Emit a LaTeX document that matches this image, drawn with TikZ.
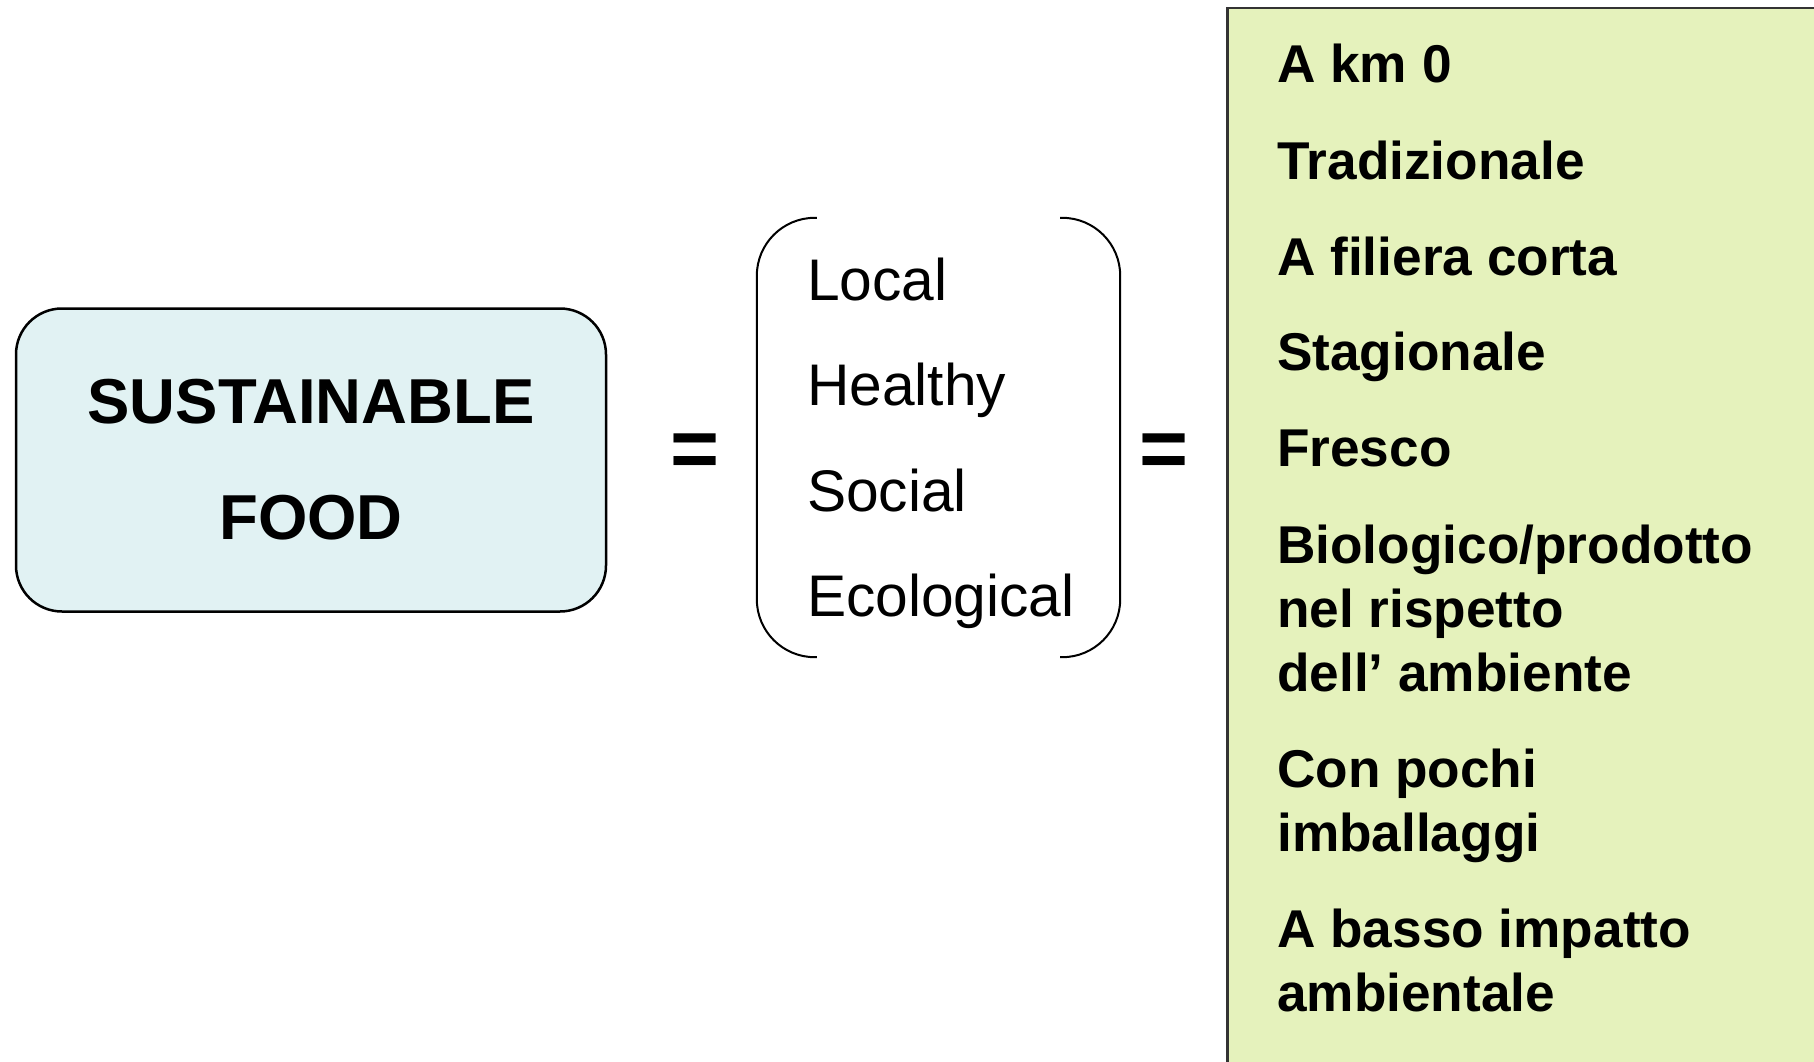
\documentclass[tikz,border=0pt]{standalone}
\usepackage{fontspec}
\setmainfont{Liberation Sans}
\usetikzlibrary{positioning, calc}
\definecolor{foodblue}{HTML}{E1F2F3}
\definecolor{itemgreen}{HTML}{E5F2BC}

\begin{document}
\begin{tikzpicture}[x=1pt, y=-1pt,
                    food_box/.style={rectangle, draw, line width=2.5pt, rounded corners=46pt, fill=foodblue, minimum width=590pt, minimum height=303pt, align=center, font=\fontsize{63.5}{116}\selectfont\bfseries},
                    equals_sign/.style={inner sep=0pt, font=\fontsize{84}{84}\selectfont\bfseries},
                    quality/.style={anchor=base west, inner sep=0pt, font=\fontsize{58.7}{72}\selectfont},
                    bracket_line/.style={line width=2pt, rounded corners=58pt},
                    item_box/.style={rectangle, draw, line width=2.5pt, draw=black!80, fill=itemgreen, minimum width=700pt, minimum height=1100pt, anchor=north west},
                    item/.style={anchor=base west, inner sep=0pt, align=left, font=\fontsize{53.2}{64}\selectfont\bfseries},
                    ]

    \useasboundingbox (0,0) rectangle (1814,1062);
    \clip (0,0) rectangle (1814,1062);

    % Sustainable food
    \node[food_box] (food) at (311,460) {SUSTAINABLE\\FOOD};
    \node[equals_sign] (eq_left) at (695,456) {=};

    % Qualities in brackets
    \node[minimum width=363pt, minimum height=439pt] (qualities) at (938.5,437.5) {};
    \draw[bracket_line] ($(qualities.north west)+(60,0)$) -- (qualities.north west) -- (qualities.south west) -- ($(qualities.south west)+(60,0)$);
    \draw[bracket_line] ($(qualities.north east)+(-60,0)$) -- (qualities.north east) -- (qualities.south east) -- ($(qualities.south east)+(-60,0)$);
    \node[quality] (local) at ($(qualities.north west)+(50,83)$) {Local};
    \node[quality] (healthy) at ($(local.base west)+(0,105)$) {Healthy};
    \node[quality] (social) at ($(healthy.base west)+(0,106)$) {Social};
    \node[quality] (ecological) at ($(social.base west)+(0,105)$) {Ecological};

    \node[equals_sign] (eq_right) at (1164,456) {=};

    % Italian list (base of a multi-line item = its last line)
    \node[item_box] (items) at (1226,7) {};
    \node[item] (km_zero) at ($(items.north west)+(51,76)$) {A km 0};
    \node[item] (traditional) at ($(km_zero.base west)+(0,96)$) {Tradizionale};
    \node[item] (short_chain) at ($(traditional.base west)+(0,96)$) {A filiera corta};
    \node[item] (seasonal) at ($(short_chain.base west)+(0,95)$) {Stagionale};
    \node[item] (fresh) at ($(seasonal.base west)+(0,96)$) {Fresco};
    \node[item] (organic) at ($(fresh.base west)+(0,225)$) {Biologico/prodotto\\nel rispetto\\dell’ ambiente};
    \node[item] (packaging) at ($(organic.base west)+(0,160)$) {Con pochi\\imballaggi};
    \node[item] (low_impact) at ($(packaging.base west)+(0,160)$) {A basso impatto\\ambientale};

\end{tikzpicture}
\end{document}
